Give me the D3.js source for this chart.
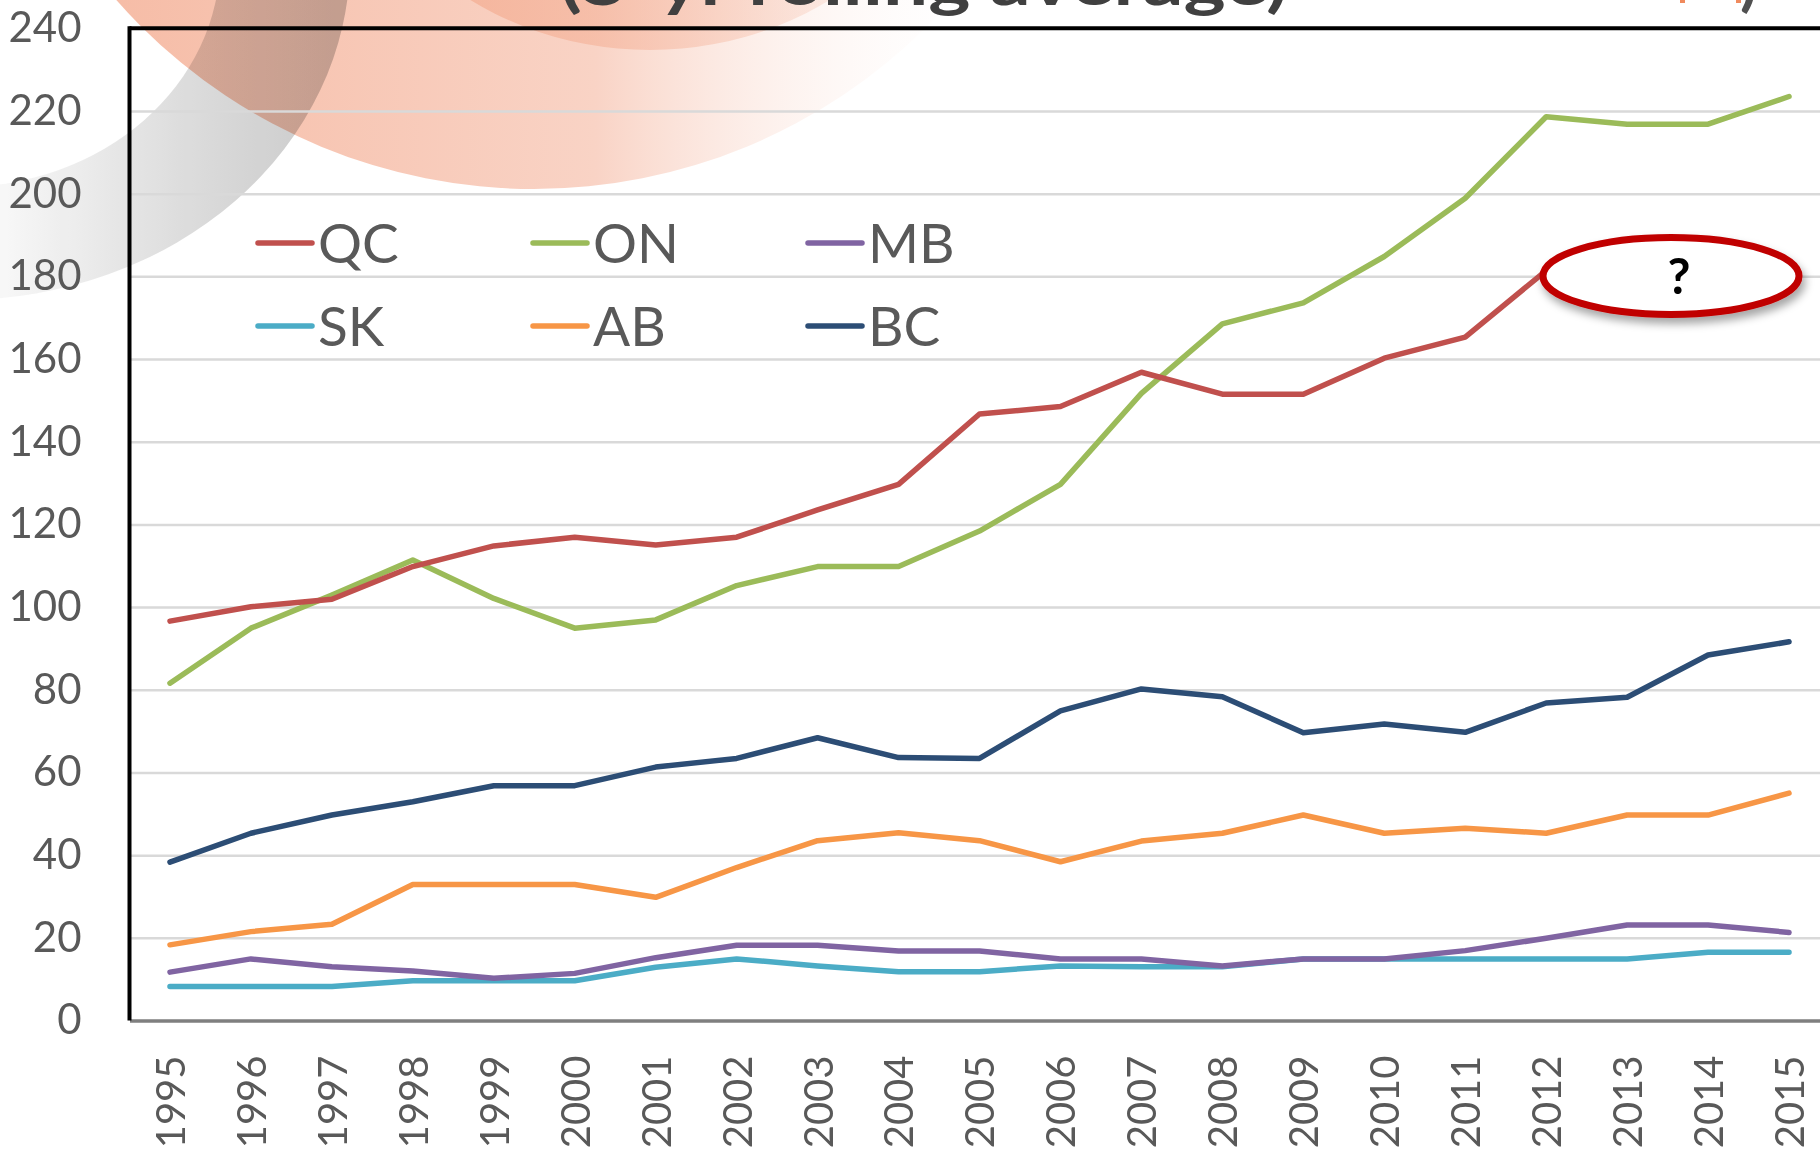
<!DOCTYPE html>
<html lang="en">
<head>
    <meta charset="UTF-8">
    <title>Rolling average by province</title>
    <style>
        html, body {
            margin: 0;
            padding: 0;
            background: #fff;
            overflow: hidden;
        }
        svg {
            display: block;
            font-family: Lato, 'Open Sans', sans-serif;
        }
    </style>
</head>
<body>
    <script src="https://d3js.org/d3.v7.min.js"></script>
    <script>
        const W = 1820
        const H = 1151

        // data
        const years = ['1995', '1996', '1997', '1998', '1999', '2000', '2001', '2002', '2003', '2004', '2005',
            '2006', '2007', '2008', '2009', '2010', '2011', '2012', '2013', '2014', '2015']
        const qc = [96.6, 100.1, 101.9, 109.8, 114.8, 116.9, 115.0, 116.9, 123.5, 129.7, 146.7,
            148.5, 156.8, 151.5, 151.5, 160.2, 165.3, 181.4, null, null, null]
        const on = [81.6, 94.9, 102.9, 111.4, 102.1, 94.9, 96.9, 105.2, 109.8, 109.8, 118.4,
            129.7, 151.7, 168.5, 173.6, 184.8, 198.9, 218.6, 216.8, 216.8, 223.5]
        const mb = [11.7, 14.9, 13.0, 12.0, 10.2, 11.4, 15.2, 18.2, 18.2, 16.8, 16.8,
            14.9, 14.9, 13.2, 14.9, 14.9, 16.9, 19.9, 23.1, 23.1, 21.3]
        const sk = [8.2, 8.2, 8.2, 9.6, 9.6, 9.6, 12.9, 14.9, 13.2, 11.8, 11.8,
            13.2, 13.0, 13.0, 14.9, 14.9, 14.9, 14.9, 14.9, 16.5, 16.5]
        const ab = [18.3, 21.5, 23.3, 32.9, 32.9, 32.9, 29.8, 37.0, 43.5, 45.4, 43.5,
            38.4, 43.4, 45.3, 49.7, 45.3, 46.5, 45.3, 49.7, 49.7, 55.0]
        const bc = [38.3, 45.3, 49.7, 52.9, 56.8, 56.8, 61.3, 63.4, 68.4, 63.6, 63.4,
            74.9, 80.2, 78.3, 69.6, 71.7, 69.7, 76.8, 78.2, 88.4, 91.6]
        const yTicks = [0, 20, 40, 60, 80, 100, 120, 140, 160, 180, 200, 220, 240]

        const series = [
            { name: 'QC', color: '#C0504D', values: qc },
            { name: 'ON', color: '#9BBB59', values: on },
            { name: 'MB', color: '#8064A2', values: mb },
            { name: 'SK', color: '#4BACC6', values: sk },
            { name: 'AB', color: '#F79646', values: ab },
            { name: 'BC', color: '#2C4D75', values: bc }
        ]

        const plot = { left: 129.5, right: 1829.5, top: 28.3, bottom: 1020.5 }

        const x = d3.scalePoint()
            .domain(years)
            .range([plot.left, plot.right])
            .padding(0.5)

        const y = d3.scaleLinear()
            .domain([0, 240])
            .range([plot.bottom, plot.top])

        const svg = d3.select('body')
            .append('svg')
            .attr('width', W)
            .attr('height', H)

        const defs = svg.append('defs')

        // background decoration (slide theme)
        const gSalmon = defs.append('linearGradient')
            .attr('id', 'salmon')
            .attr('gradientUnits', 'userSpaceOnUse')
            .attr('x1', 100).attr('y1', 0).attr('x2', 1000).attr('y2', 0)
        gSalmon.append('stop').attr('offset', 0).attr('stop-color', '#F6BCA6')
        gSalmon.append('stop').attr('offset', 0.55).attr('stop-color', '#F9D3C5')
        gSalmon.append('stop').attr('offset', 1).attr('stop-color', '#ffffff').attr('stop-opacity', 0)

        const gInner = defs.append('linearGradient')
            .attr('id', 'inner')
            .attr('gradientUnits', 'userSpaceOnUse')
            .attr('x1', 420).attr('y1', 0).attr('x2', 980).attr('y2', 0)
        gInner.append('stop').attr('offset', 0).attr('stop-color', '#F4AE93').attr('stop-opacity', 0.8)
        gInner.append('stop').attr('offset', 1).attr('stop-color', '#F4AE93').attr('stop-opacity', 0)

        const gGray = defs.append('linearGradient')
            .attr('id', 'gray')
            .attr('gradientUnits', 'userSpaceOnUse')
            .attr('x1', 0).attr('y1', 0).attr('x2', 340).attr('y2', 0)
        gGray.append('stop').attr('offset', 0).attr('stop-color', '#f7f7f7')
        gGray.append('stop').attr('offset', 0.6).attr('stop-color', '#d6d6d6')
        gGray.append('stop').attr('offset', 1).attr('stop-color', '#c4c4c4')

        const shadow = defs.append('filter')
            .attr('id', 'shadow')
            .attr('x', '-20%').attr('y', '-30%')
            .attr('width', '140%').attr('height', '170%')
        shadow.append('feDropShadow')
            .attr('dx', 3).attr('dy', 6)
            .attr('stdDeviation', 4)
            .attr('flood-color', '#000')
            .attr('flood-opacity', 0.35)

        const deco = svg.append('g')

        deco.append('circle')
            .attr('cx', 534).attr('cy', -367).attr('r', 556)
            .attr('fill', 'url(#salmon)')

        deco.append('ellipse')
            .attr('cx', 650).attr('cy', -260).attr('rx', 330).attr('ry', 310)
            .attr('fill', 'url(#inner)')

        // gray crescent band in the corner
        const outer = d3.arc()
        deco.append('path')
            .attr('d', 'M -40 -40 m 390 0 A 390 340 0 0 1 -40 300 L -40 187 A 260 227 0 0 0 220 -40 Z')
            .attr('fill', 'url(#gray)')
            .style('mix-blend-mode', 'multiply')
            .attr('opacity', 0.9)

        // title, cut by the top of the frame
        svg.append('text')
            .attr('x', 924)
            .attr('y', 5)
            .attr('text-anchor', 'middle')
            .attr('font-size', 64)
            .attr('font-weight', 700)
            .attr('fill', '#404040')
            .attr('textLength', 728)
            .attr('lengthAdjust', 'spacingAndGlyphs')
            .text('(5-yr rolling average)')

        // corner logo fragment
        svg.append('text')
            .attr('x', 1740)
            .attr('y', 4)
            .attr('font-size', 64)
            .attr('font-weight', 700)
            .attr('fill', '#505050')
            .text(')')
        svg.append('rect').attr('x', 1680).attr('y', 0).attr('width', 5).attr('height', 3).attr('fill', '#F08A5D')
        svg.append('rect').attr('x', 1736).attr('y', 0).attr('width', 5).attr('height', 3).attr('fill', '#F08A5D')

        // gridlines
        svg.append('g')
            .attr('transform', `translate(${plot.left},0)`)
            .call(d3.axisLeft(y).tickValues(yTicks.slice(1, -1)).tickSize(-(plot.right - plot.left)).tickFormat(''))
            .call(g => g.select('.domain').remove())
            .call(g => g.selectAll('line').attr('stroke', '#D9D9D9').attr('stroke-width', 2.5))

        // y tick labels
        svg.append('g')
            .attr('transform', `translate(${plot.left},0)`)
            .call(d3.axisLeft(y).tickValues(yTicks).tickSize(0).tickPadding(48))
            .call(g => g.select('.domain').remove())
            .call(g => g.selectAll('text')
                .attr('font-family', 'Lato, sans-serif')
                .attr('font-size', 42)
                .attr('fill', '#595959'))

        // x axis
        svg.append('g')
            .attr('transform', `translate(0,${plot.bottom})`)
            .call(d3.axisBottom(x).tickSize(0).tickPadding(0))
            .call(g => g.select('.domain')
                .attr('stroke', '#7F7F7F')
                .attr('stroke-width', 3.5))
            .call(g => g.selectAll('text')
                .attr('font-family', 'Lato, sans-serif')
                .attr('font-size', 40)
                .attr('fill', '#595959')
                .attr('text-anchor', 'end')
                .attr('transform', 'translate(0,35) rotate(-90)')
                .attr('dy', '0.36em')
                .attr('y', 0)
                .attr('x', 0))

        // frame: top and left borders in black
        svg.append('line')
            .attr('x1', plot.left).attr('x2', W)
            .attr('y1', plot.top).attr('y2', plot.top)
            .attr('stroke', '#000').attr('stroke-width', 4)
        svg.append('line')
            .attr('x1', plot.left).attr('x2', plot.left)
            .attr('y1', plot.top - 2).attr('y2', plot.bottom)
            .attr('stroke', '#000').attr('stroke-width', 4)

        // lines
        const line = d3.line()
            .defined(d => d.v != null)
            .x(d => x(d.year))
            .y(d => y(d.v))

        svg.append('g')
            .selectAll('path')
            .data(series.slice().reverse())
            .enter()
            .append('path')
            .attr('d', s => line(s.values.map((v, i) => ({ year: years[i], v: v }))))
            .attr('fill', 'none')
            .attr('stroke', s => s.color)
            .attr('stroke-width', 5.5)
            .attr('stroke-linejoin', 'round')
            .attr('stroke-linecap', 'round')

        // legend, 3 columns x 2 rows
        const legend = svg.append('g')
            .selectAll('g')
            .data(series)
            .enter()
            .append('g')
            .attr('transform', (d, i) => `translate(${258 + (i % 3) * 275},${i < 3 ? 243 : 326})`)

        legend.append('line')
            .attr('x1', 0).attr('x2', 54)
            .attr('stroke', d => d.color)
            .attr('stroke-width', 5.5)
            .attr('stroke-linecap', 'round')

        legend.append('text')
            .attr('x', 60)
            .attr('dy', '0.36em')
            .attr('font-size', 55)
            .attr('fill', '#595959')
            .text(d => d.name)

        // callout over the missing QC values
        const callout = svg.append('g')
        callout.append('ellipse')
            .attr('cx', 1671).attr('cy', 276)
            .attr('rx', 128).attr('ry', 38.5)
            .attr('fill', '#fff')
            .attr('stroke', '#C00000')
            .attr('stroke-width', 7)
            .attr('filter', 'url(#shadow)')
        callout.append('text')
            .attr('x', 1679).attr('y', 276)
            .attr('dy', '0.36em')
            .attr('text-anchor', 'middle')
            .attr('font-size', 50)
            .attr('font-weight', 700)
            .attr('fill', '#000')
            .text('?')
    </script>
</body>
</html>
